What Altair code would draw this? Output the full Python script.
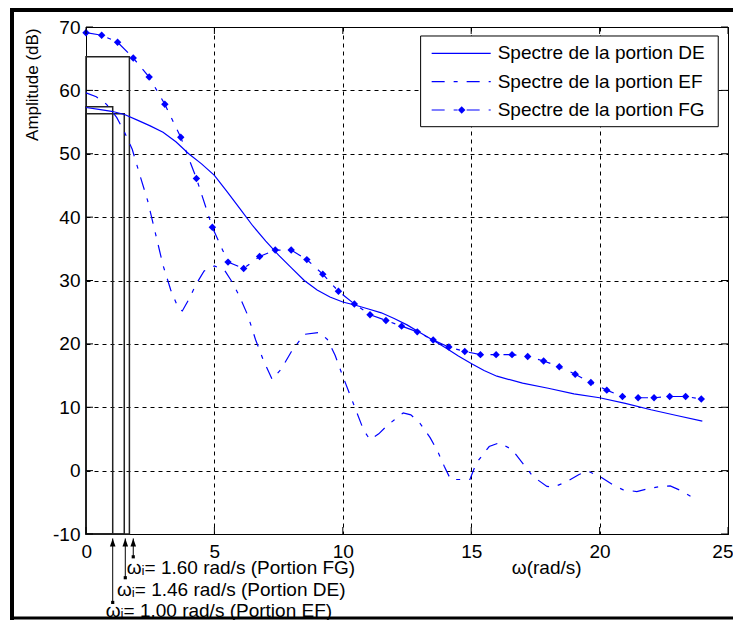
import altair as alt
import pandas as pd

# ---- data ----
de_w = [0, 0.5, 1.0, 1.5, 2.0, 2.5, 3.0, 3.5, 4.0, 4.5, 5.0, 5.5, 6.0, 6.5, 7.0, 7.5,
        8.0, 8.5, 9.0, 9.5, 10.0, 10.5, 11.0, 11.5, 12.0, 12.5, 13.0, 13.5, 14.0, 14.5,
        15.0, 15.5, 16.0, 17.0, 18.0, 19.0, 20.0, 21.0, 22.0, 23.0, 24.0]
de_amp = [57.3, 57.0, 56.7, 56.2, 55.3, 54.4, 53.4, 51.9, 50.0, 48.4, 46.6, 44.0, 41.3,
          38.6, 36.2, 34.0, 32.0, 30.0, 28.5, 27.4, 26.6, 26.1, 25.5, 24.9, 24.0, 23.0,
          21.8, 20.6, 19.4, 18.1, 16.9, 15.8, 14.9, 13.8, 13.0, 12.1, 11.5, 10.6, 9.6,
          8.7, 7.8]

ef_w = [0, 0.4, 0.8, 1.2, 1.5, 1.8, 2.1, 2.4, 2.7, 3.0, 3.3, 3.6, 3.75, 4.0, 4.3, 4.6,
        5.0, 5.4, 5.7, 6.0, 6.3, 6.6, 6.9, 7.25, 7.6, 8.0, 8.5, 9.1, 9.4, 9.7, 10.0,
        10.4, 10.8, 11.05, 11.4, 11.7, 12.0, 12.35, 12.65, 13.0, 13.4, 13.7, 13.95,
        14.2, 14.95, 15.2, 15.7, 16.1, 16.6, 17.0, 17.4, 17.95, 18.2, 18.7, 19.2,
        19.55, 20.0, 20.5, 20.9, 21.45, 21.85, 22.35, 22.75, 23.25, 23.75]
ef_amp = [59.6, 59.0, 57.8, 55.7, 53.4, 50.7, 46.6, 42.6, 37.5, 32.4, 28.5, 25.6, 25.2,
          27.0, 29.5, 31.5, 32.3, 31.6, 29.7, 27.3, 24.5, 20.7, 17.5, 14.4, 16.0, 18.8,
          21.5, 21.8, 20.7, 18.2, 14.9, 10.7, 6.5, 4.9, 5.8, 7.0, 8.0, 9.1, 8.8, 7.5,
          5.2, 3.0, 0.7, -1.4, -1.4, 1.2, 3.8, 4.4, 3.3, 1.2, -0.9, -2.5, -2.6, -1.8,
          -0.6, -0.1, -0.9, -2.2, -3.0, -3.3, -2.9, -2.5, -2.4, -3.3, -4.6]

fg_w = [0.00, 0.61, 1.23, 1.84, 2.46, 3.07, 3.69, 4.30, 4.92, 5.53, 6.14, 6.76, 7.37,
        7.99, 8.60, 9.22, 9.83, 10.45, 11.06, 11.68, 12.29, 12.90, 13.52, 14.13, 14.75,
        15.36, 15.97, 16.59, 17.20, 17.82, 18.43, 19.05, 19.66, 20.28, 20.89, 21.50,
        22.12, 22.73, 23.35, 23.96]
fg_amp = [69.1, 68.7, 67.6, 65.1, 62.1, 57.8, 52.6, 46.1, 38.4, 32.9, 31.9, 33.8, 34.8,
          34.8, 33.3, 31.0, 28.3, 26.3, 24.6, 23.7, 22.8, 21.9, 20.6, 19.5, 18.8, 18.3,
          18.3, 18.3, 18.0, 17.3, 16.4, 15.2, 13.9, 12.7, 11.7, 11.5, 11.5, 11.7, 11.7,
          11.3]

series_names = ["Spectre de la portion DE", "Spectre de la portion EF",
                "Spectre de la portion FG"]

# boxes under each spectrum up to omega_i
box_w = [1.04, 1.49, 1.69]
box_amp = [57.4, 56.3, 65.3]

# annotations
wi_labels = ["ωᵢ= 1.60 rad/s (Portion FG)", "ωᵢ= 1.46 rad/s (Portion DE)",
             "ωᵢ= 1.00 rad/s (Portion EF)"]
arrow_w = [1.84, 1.53, 1.04]
arrow_tail = [-13.6, -16.9, -20.8]
label_w = [1.585, 1.207, 0.767]
label_amp = [-15.3, -18.8, -22.1]

x_ticks = [0, 5, 10, 15, 20, 25]
y_ticks = [-10, 0, 10, 20, 30, 40, 50, 60, 70]
x_title = "ω(rad/s)"
y_title = "Amplitude (dB)"

# ---- styling ----
BLUE = "#0000ff"
FONT = "Liberation Sans"
FS = 19
W, H = 642, 507
PAD = {"left": 78, "top": 19, "right": 5, "bottom": 86}
DASHDOT = [13, 9, 4, 9]

xs = alt.Scale(domain=[0, 25], nice=False, zero=False)
ys = alt.Scale(domain=[-10, 70], nice=False, zero=False)


def X(field="w"):
    return alt.X(f"{field}:Q", scale=xs, title=None)


def Y(field="amp"):
    return alt.Y(f"{field}:Q", scale=ys, title=None)


de_df = pd.DataFrame({"w": de_w, "amp": de_amp})
ef_df = pd.DataFrame({"w": ef_w, "amp": ef_amp})
fg_df = pd.DataFrame({"w": fg_w, "amp": fg_amp})

# axes + grid layer
axes = alt.Chart(pd.DataFrame({"w": [0, 25], "amp": [-10, 70]})).mark_point(opacity=0).encode(
    x=alt.X("w:Q", scale=xs, title=None,
            axis=alt.Axis(values=x_ticks, labelPadding=8, labelAngle=0, labelFlush=True,
                          labelFlushOffset=5)),
    y=alt.Y("amp:Q", scale=ys, title=None,
            axis=alt.Axis(values=y_ticks, labelPadding=6, labelFlush=False,
                          labelExpr="replace(datum.label, '\u2212', '-')")),
)

# axis titles as text
titles = alt.layer(
    alt.Chart(pd.DataFrame({"w": [17.94], "amp": [-15.3], "t": [x_title]})).mark_text(
        align="center", baseline="middle", font=FONT, fontSize=FS, color="black").encode(
        x=X(), y=Y(), text="t:N"),
    alt.Chart(pd.DataFrame({"w": [-2.06], "amp": [60.9], "t": [y_title]})).mark_text(
        align="center", baseline="middle", font=FONT, fontSize=17, color="black",
        angle=270).encode(x=X(), y=Y(), text="t:N"),
)

# inward ticks
xt_df = pd.DataFrame({"w": x_ticks})
yt_df = pd.DataFrame({"amp": y_ticks})
TL = 7
ticks = alt.layer(
    alt.Chart(xt_df).mark_rule(color="black", strokeWidth=1).encode(
        x=X(), y=alt.value(H), y2=alt.value(H - TL)),
    alt.Chart(xt_df).mark_rule(color="black", strokeWidth=1).encode(
        x=X(), y=alt.value(0), y2=alt.value(TL)),
    alt.Chart(yt_df).mark_rule(color="black", strokeWidth=1).encode(
        y=Y(), x=alt.value(0), x2=alt.value(TL)),
    alt.Chart(yt_df).mark_rule(color="black", strokeWidth=1).encode(
        y=Y(), x=alt.value(W - TL), x2=alt.value(W)),
)

# boxes
box_df = pd.DataFrame({"w0": [0] * 3, "w": box_w, "a0": [-10] * 3, "amp": box_amp})
boxes = alt.Chart(box_df).mark_rect(fillOpacity=0, stroke="#222222", strokeWidth=1.5).encode(
    x=X("w0"), x2="w:Q", y=Y("a0"), y2="amp:Q")

# curves
de_line = alt.Chart(de_df).mark_line(color=BLUE, strokeWidth=1.2).encode(x=X(), y=Y())
ef_line = alt.Chart(ef_df).mark_line(color=BLUE, strokeWidth=1.2, strokeDash=DASHDOT).encode(
    x=X(), y=Y())
fg_line = alt.Chart(fg_df).mark_line(color=BLUE, strokeWidth=1.2, strokeDash=DASHDOT).encode(
    x=X(), y=Y())
fg_pts = alt.Chart(fg_df).mark_point(shape="diamond", filled=True, color=BLUE, size=55,
                                     opacity=1).encode(x=X(), y=Y())

# legend (placed in data coordinates)
leg_box = alt.Chart(pd.DataFrame({"a": [13.03], "b": [24.62], "c": [54.27], "d": [68.58]})
                    ).mark_rect(fill="white", stroke="black", strokeWidth=1).encode(
    x=X("a"), x2="b:Q", y=Y("c"), y2="d:Q")
leg_rows = [65.85, 61.37, 56.9]
leg_df = pd.DataFrame({"name": series_names, "amp": leg_rows,
                       "a": [13.46] * 3, "b": [15.76] * 3, "t": [16.03] * 3,
                       "m": [14.63] * 3})
leg_de = alt.Chart(leg_df.iloc[[0]]).mark_rule(color=BLUE, strokeWidth=1.2).encode(
    x=X("a"), x2="b:Q", y=Y())
leg_ef = alt.Chart(leg_df.iloc[[1]]).mark_rule(color=BLUE, strokeWidth=1.2,
                                               strokeDash=DASHDOT).encode(
    x=X("a"), x2="b:Q", y=Y())
leg_fg = alt.Chart(leg_df.iloc[[2]]).mark_rule(color=BLUE, strokeWidth=1.2,
                                               strokeDash=DASHDOT).encode(
    x=X("a"), x2="b:Q", y=Y())
leg_fgm = alt.Chart(leg_df.iloc[[2]]).mark_point(shape="diamond", filled=True, color=BLUE,
                                                 size=55, opacity=1).encode(x=X("m"), y=Y())
leg_txt = alt.Chart(leg_df).mark_text(align="left", baseline="middle", font=FONT,
                                      fontSize=FS, color="black").encode(
    x=X("t"), y=Y(), text="name:N")

# arrows and labels under the axis
arr_df = pd.DataFrame({"w": arrow_w, "tail": arrow_tail, "tip": [-10.7] * 3,
                       "head": [-11.35] * 3})
arr_line = alt.Chart(arr_df).mark_rule(color="black", strokeWidth=1).encode(
    x=X(), y=Y("tail"), y2="tip:Q")
arr_head = alt.Chart(arr_df).mark_point(shape="M0,-1L0.7,1L-0.7,1Z", filled=True,
                                        color="black", size=64, opacity=1).encode(
    x=X(), y=Y("head"))
arr_tail = alt.Chart(arr_df).mark_point(shape="square", filled=True, color="black",
                                        size=10, opacity=1).encode(x=X(), y=Y("tail"))
lab_df = pd.DataFrame({"w": label_w, "amp": label_amp, "txt": wi_labels})
labels = alt.Chart(lab_df).mark_text(align="left", baseline="middle", font=FONT,
                                     fontSize=FS, color="black").encode(
    x=X(), y=Y(), text="txt:N")

# outer figure frame (left, top, bottom edges)
FR_L = -74
FR_T = -17
FR_B = H + PAD["bottom"] - 2
FR_R = W + PAD["right"]
one = pd.DataFrame({"a": [0]})
frame = alt.layer(
    alt.Chart(one).mark_rule(color="black", strokeWidth=4).encode(
        x=alt.value(FR_L), y=alt.value(FR_T - 2), y2=alt.value(FR_B + 2)),
    alt.Chart(one).mark_rule(color="black", strokeWidth=4).encode(
        x=alt.value(FR_L - 2), x2=alt.value(FR_R), y=alt.value(FR_T)),
    alt.Chart(one).mark_rule(color="black", strokeWidth=3).encode(
        x=alt.value(FR_L - 2), x2=alt.value(FR_R), y=alt.value(FR_B)),
)

chart = alt.layer(
    axes, boxes, de_line, ef_line, fg_line, fg_pts, ticks,
    leg_box, leg_de, leg_ef, leg_fg, leg_fgm, leg_txt,
    arr_line, arr_head, arr_tail, labels, titles, frame,
).properties(
    width=W, height=H,
    padding=PAD,
    autosize=alt.AutoSizeParams(type="none"),
    background="white",
).configure_view(
    stroke="black", strokeWidth=1,
).configure_axis(
    labelFont=FONT, labelFontSize=FS, labelColor="black",
    domain=False, ticks=False, tickSize=0,
    grid=True, gridColor="black", gridDash=[4, 4], gridWidth=1, gridOpacity=1,
)

chart.save("out.html", embed_options={"renderer": "svg", "actions": False})
